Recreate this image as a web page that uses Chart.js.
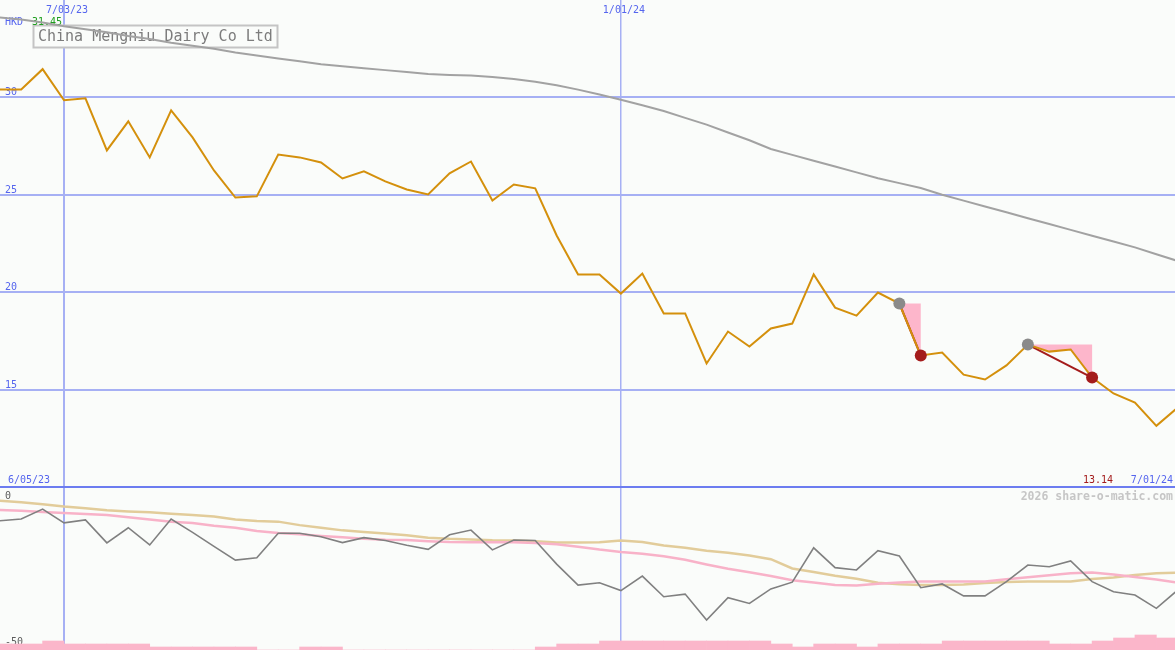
<!DOCTYPE html>
<html>
<head>
<meta charset="utf-8">
<title>China Mengniu Dairy Co Ltd</title>
<script src="https://cdn.jsdelivr.net/npm/chart.js@4/dist/chart.umd.min.js"></script>
<style>
  html, body { margin: 0; padding: 0; background: #fafcfa; }
  #wrap { position: relative; width: 1175px; height: 650px; overflow: hidden; }
  canvas { position: absolute; left: 0; }
  #top { top: 0; z-index: 2; }
  #low { top: 487px; z-index: 1; }
</style>
</head>
<body>
<div id="wrap">
  <canvas id="top" width="1175" height="490"></canvas>
  <canvas id="low" width="1175" height="163"></canvas>
</div>
<script>
'use strict'

// weekly closes, 12 Jun 2023 .. 1 Jul 2024 (HKD)
const price = [
  30.41, 30.41, 31.45, 29.85, 29.95, 27.28, 28.77, 26.92, 29.33, 27.95,
  26.25, 24.86, 24.92, 27.07, 26.92, 26.66, 25.84, 26.20, 25.69, 25.27,
  25.02, 26.10, 26.71, 24.71, 25.53, 25.33, 22.91, 20.91, 20.91, 19.93,
  20.96, 18.91, 18.91, 16.34, 17.98, 17.21, 18.14, 18.39, 20.91, 19.21,
  18.80, 19.98, 19.42, 16.75, 16.90, 15.77, 15.52, 16.24, 17.31, 16.95,
  17.06, 15.62, 14.80, 14.33, 13.14, 14.08
]

// long moving average of price
const priceAvg = [
  34.10, 34.00, 33.85, 33.65, 33.50, 33.35, 33.15, 33.00, 32.80, 32.65,
  32.50, 32.30, 32.15, 32.00, 31.85, 31.70, 31.60, 31.50, 31.40, 31.30,
  31.20, 31.15, 31.12, 31.05, 30.95, 30.80, 30.62, 30.40, 30.15, 29.88,
  29.60, 29.30, 28.95, 28.60, 28.20, 27.80, 27.35, 27.05, 26.75, 26.45,
  26.15, 25.85, 25.60, 25.35, 25.00, 24.70, 24.40, 24.10, 23.80, 23.50,
  23.20, 22.90, 22.60, 22.30, 21.95, 21.60
]

// lower panel: relative performance and its two averages
const relative = [
  -7.6, -7.0, -3.6, -8.3, -7.3, -15.2, -10.0, -15.9, -7.0, -11.6,
  -16.4, -21.1, -20.3, -11.9, -11.9, -13.1, -15.1, -13.4, -14.4, -16.0,
  -17.4, -12.4, -10.8, -17.6, -14.2, -14.4, -22.5, -29.7, -28.9, -31.6,
  -26.6, -33.7, -32.8, -41.7, -34.0, -36.0, -31.0, -28.7, -16.9, -23.7,
  -24.5, -17.9, -19.7, -30.6, -29.3, -33.4, -33.4, -28.5, -22.8, -23.4,
  -21.4, -28.5, -32.0, -33.1, -37.7, -31.4
]
const relSlow = [
  -0.7, -1.2, -1.9, -2.7, -3.3, -4.0, -4.4, -4.7, -5.2, -5.6,
  -6.1, -7.2, -7.7, -7.9, -9.1, -10.0, -10.9, -11.5, -12.0, -12.6,
  -13.4, -13.8, -14.0, -14.3, -14.4, -14.6, -15.1, -15.1, -15.0, -14.4,
  -14.9, -16.1, -16.9, -17.9, -18.6, -19.5, -20.8, -24.0, -25.2, -26.5,
  -27.5, -28.9, -29.4, -29.7, -29.7, -29.5, -29.0, -28.6, -28.5, -28.5,
  -28.5, -27.6, -27.1, -26.2, -25.6, -25.4
]
const relFast = [
  -3.9, -4.2, -4.6, -4.9, -5.3, -5.6, -6.4, -7.2, -7.9, -8.4,
  -9.3, -10.0, -11.1, -11.8, -12.2, -12.8, -13.3, -13.8, -14.1, -14.2,
  -14.6, -14.9, -15.0, -15.0, -15.0, -15.2, -15.7, -16.5, -17.5, -18.3,
  -18.9, -19.8, -21.0, -22.6, -24.1, -25.3, -26.6, -28.0, -28.8, -29.7,
  -29.8, -29.2, -28.8, -28.5, -28.5, -28.5, -28.5, -27.7, -27.0, -26.3,
  -25.6, -25.4, -26.1, -26.9, -27.8, -28.9
]

// volume blocks, one per week
const volume = [
  2, 2, 3, 2, 2, 2, 2, 1, 1, 1, 1, 1, 0, 0, 1, 1, 0, 0, 0, 0,
  0, 0, 0, 0, 0, 1, 2, 2, 3, 3, 3, 3, 3, 3, 3, 3, 2, 1, 2, 2,
  1, 2, 2, 2, 3, 3, 3, 3, 3, 2, 2, 3, 4, 5, 4
]

// signal pairs: start week, end week
const signalFrom = [42, 48]
const signalTo = [43, 51]

const dateIdx = [3, 29]
const dateLabels = ['7/03/23', '1/01/24']
const priceTicks = [15, 20, 25, 30]
const lowerTicks = [0, -50]
const title = 'China Mengniu Dairy Co Ltd'
const currency = 'HKD'
const startLabel = '6/05/23'
const endLabel = '7/01/24'
const credit = '2026 share-o-matic.com'

const bg = '#fafcfa'
const blue = '#5565ee'
const gridBlue = '#a6b0f4'
const sepBlue = '#6c7cf0'
const darkRed = '#a41c1c'
const small = '10px "DejaVu Sans Mono"'

const pts = arr => arr.map((v, i) => ({ x: i, y: v }))

const topText = {
  id: 'topText',
  beforeDatasetsDraw(chart) {
    const { ctx, scales: { x, y } } = chart
    ctx.save()
    ctx.fillStyle = bg
    ctx.fillRect(33.5, 25.5, 244, 22)
    ctx.strokeStyle = '#c4c4c4'
    ctx.lineWidth = 2
    ctx.strokeRect(33.5, 25.5, 244, 22)
    ctx.font = '15px "DejaVu Sans Mono"'
    ctx.fillStyle = '#7c7c7c'
    ctx.fillText(title, 38, 41)

    ctx.font = small
    ctx.fillStyle = blue
    priceTicks.forEach(v => ctx.fillText(String(v), 5, y.getPixelForValue(v) - 2))
    ctx.fillText(currency, 5, 25)
    ctx.fillStyle = '#1e9e1e'
    ctx.fillText(Math.max(...price).toFixed(2), 32, 25)

    ctx.fillStyle = blue
    ctx.textAlign = 'center'
    dateIdx.forEach((d, i) => ctx.fillText(dateLabels[i], x.getPixelForValue(d) + 3, 13))

    ctx.textAlign = 'left'
    ctx.fillText(startLabel, 8, 483)
    ctx.textAlign = 'right'
    ctx.fillText(endLabel, 1173, 483)
    ctx.fillStyle = darkRed
    ctx.fillText(Math.min(...price).toFixed(2), 1113, 483)
    ctx.restore()
  }
}

const lowText = {
  id: 'lowText',
  beforeDatasetsDraw(chart) {
    const { ctx, scales: { y } } = chart
    ctx.save()
    ctx.font = small
    ctx.fillStyle = '#5c5c5c'
    lowerTicks.forEach(v => ctx.fillText(String(v), 5, y.getPixelForValue(v) + 0.5))
    ctx.font = 'bold 11.5px "DejaVu Sans Mono"'
    ctx.fillStyle = '#c6c6c6'
    ctx.textAlign = 'right'
    ctx.fillText(credit, 1173, 13)
    ctx.restore()
  }
}

const xAxis = {
  type: 'linear',
  min: 0.01,
  max: 54.87,
  offset: false,
  ticks: { display: false },
  border: { display: false },
  grid: {
    offset: false,
    drawTicks: false,
    color: gridBlue,
    lineWidth: c => (c.tick && c.tick.value === dateIdx[0]) ? 2 : 1.5
  },
  afterBuildTicks: s => { s.ticks = dateIdx.map(v => ({ value: v })) }
}

// pink areas between the start level and the price path
const fills = signalFrom.map((a, k) => {
  const b = signalTo[k]
  const poly = []
  for (let i = a; i <= b; i++) poly.push({ x: i, y: price[i] })
  poly.push({ x: b, y: price[a] })
  return {
    data: poly,
    fill: 'shape',
    backgroundColor: '#fdb6cb',
    borderWidth: 0,
    pointRadius: 0,
    order: 6
  }
})

const links = signalFrom.map((a, k) => ({
  data: [{ x: a, y: price[a] }, { x: signalTo[k], y: price[signalTo[k]] }],
  borderColor: darkRed,
  borderWidth: 2,
  pointRadius: 0,
  order: 5
}))

new Chart(document.getElementById('top'), {
  type: 'line',
  data: {
    datasets: [
      ...fills,
      ...links,
      {
        data: pts(priceAvg),
        borderColor: '#a2a2a2',
        borderWidth: 2,
        pointRadius: 0,
        order: 4
      },
      {
        data: pts(price),
        borderColor: '#d4900c',
        borderWidth: 2,
        pointRadius: 0,
        order: 3
      },
      {
        data: signalFrom.map(i => ({ x: i, y: price[i] })),
        showLine: false,
        pointRadius: 6,
        pointBorderWidth: 0,
        pointBackgroundColor: '#8a8a8a',
        order: 2
      },
      {
        data: signalTo.map(i => ({ x: i, y: price[i] })),
        showLine: false,
        pointRadius: 6,
        pointBorderWidth: 0,
        pointBackgroundColor: darkRed,
        order: 1
      }
    ]
  },
  options: {
    responsive: false,
    animation: false,
    layout: { padding: { bottom: 3 }, autoPadding: false },
    elements: { line: { tension: 0, fill: false } },
    plugins: { legend: { display: false }, tooltip: { enabled: false } },
    scales: {
      x: xAxis,
      y: {
        min: 10,
        max: 35,
        ticks: { display: false },
        border: { display: false },
        grid: {
          drawTicks: false,
          color: c => (c.tick && c.tick.value === 10) ? sepBlue : gridBlue,
          lineWidth: 2
        },
        afterBuildTicks: s => { s.ticks = [10, ...priceTicks].map(v => ({ value: v })) }
      }
    }
  },
  plugins: [topText]
})

new Chart(document.getElementById('low'), {
  type: 'line',
  data: {
    datasets: [
      {
        type: 'bar',
        yAxisID: 'y2',
        data: volume.map((v, i) => ({ x: i + 0.5, y: v })),
        backgroundColor: '#fbb6ca',
        borderWidth: 0,
        barPercentage: 1,
        categoryPercentage: 1,
        order: 10
      },
      {
        data: pts(relSlow),
        borderColor: '#e2cc9a',
        borderWidth: 2.5,
        pointRadius: 0,
        order: 3
      },
      {
        data: pts(relFast),
        borderColor: '#f8b2c8',
        borderWidth: 2.5,
        pointRadius: 0,
        order: 2
      },
      {
        data: pts(relative),
        borderColor: '#808080',
        borderWidth: 1.6,
        pointRadius: 0,
        order: 1
      }
    ]
  },
  options: {
    responsive: false,
    animation: false,
    layout: { padding: 0, autoPadding: false },
    elements: { line: { tension: 0, fill: false } },
    plugins: { legend: { display: false }, tooltip: { enabled: false } },
    scales: {
      x: xAxis,
      y: { display: false, min: -52, max: 4 },
      y2: { display: false, min: 0, max: 163 / 3, beginAtZero: true }
    }
  },
  plugins: [lowText]
})
</script>
</body>
</html>
